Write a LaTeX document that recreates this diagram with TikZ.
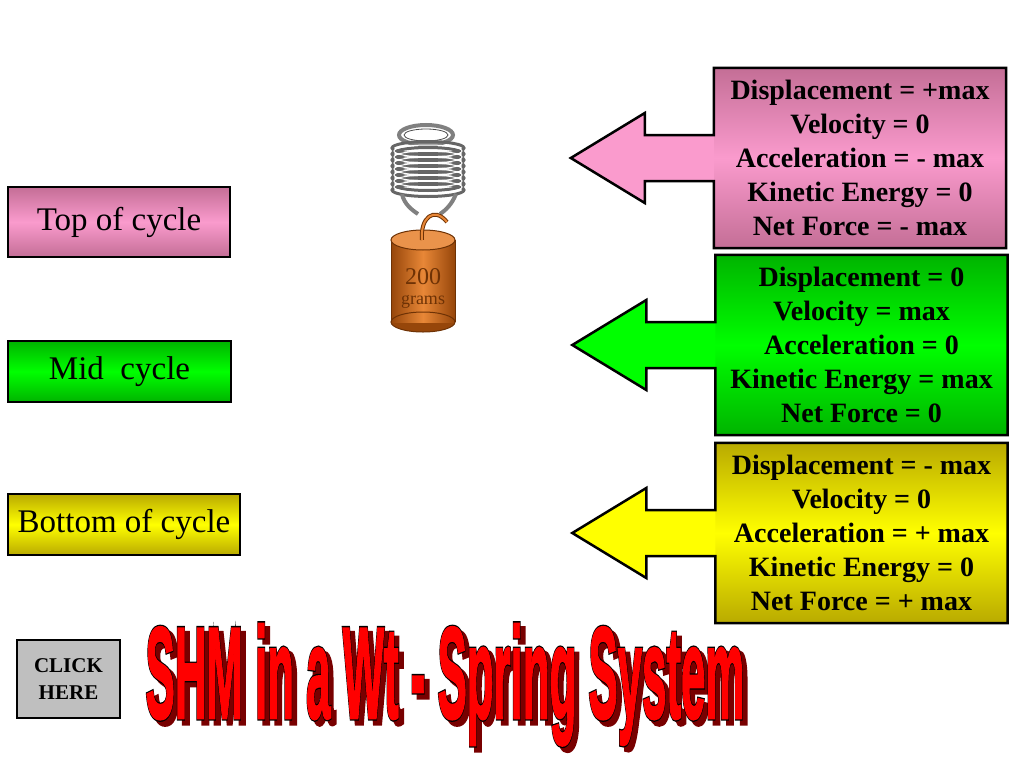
\documentclass[tikz,border=0pt]{standalone}
\usepackage{fontspec}
\setmainfont{Liberation Serif}
\newfontfamily\titlefont[FakeBold=2]{Liberation Sans Bold}
\newfontfamily\titleedgefont[FakeBold=4]{Liberation Sans Bold}
\usepackage{xcolor}
\usetikzlibrary{calc}
\definecolor{pinkmid}{RGB}{250,155,205}
\definecolor{pinkedge}{RGB}{196,110,150}
\definecolor{greenmid}{RGB}{0,255,0}
\definecolor{greenedge}{RGB}{0,180,0}
\definecolor{yellowmid}{RGB}{255,255,0}
\definecolor{yellowedge}{RGB}{185,170,0}
\definecolor{brassdark}{RGB}{150,70,10}
\definecolor{brasslight}{RGB}{232,135,55}
\definecolor{brassline}{RGB}{110,50,5}
\definecolor{titlered}{RGB}{255,0,0}
\definecolor{titleshadow}{RGB}{120,0,0}
\newcommand{\callout}[2]{%
  \fill[#2] ($(#1.west)+(0,-23)$) -- ($(#1.west)+(-69,-23)$)
    -- ($(#1.west)+(-69,-45)$) -- ($(#1.west)+(-143,0)$)
    -- ($(#1.west)+(-69,45)$) -- ($(#1.west)+(-69,23)$)
    -- ($(#1.west)+(0,23)$) -- cycle;
  \draw[outline] (#1.north west) -- ($(#1.west)+(0,-23)$)
    -- ($(#1.west)+(-69,-23)$) -- ($(#1.west)+(-69,-45)$)
    -- ($(#1.west)+(-143,0)$) -- ($(#1.west)+(-69,45)$)
    -- ($(#1.west)+(-69,23)$) -- ($(#1.west)+(0,23)$)
    -- (#1.south west) -- (#1.south east) -- (#1.north east) -- cycle;
}

\begin{document}
\begin{tikzpicture}[x=1pt, y=-1pt,
  outline/.style={draw=black, line width=2.5pt, line join=miter},
  phasebox/.style={outline, inner sep=0pt, font=\fontsize{33}{40}\selectfont},
  infobox/.style={inner sep=0pt, minimum width=292pt, minimum height=180pt,
    align=center, font=\fontsize{28}{34}\selectfont\bfseries},
  titletext/.style={anchor=base, xscale=0.337, inner sep=0pt,
    font=\fontsize{130}{130}\selectfont}]
\useasboundingbox (0,0) rectangle (1024,768);

% phase labels
\node[phasebox, minimum width=222pt, minimum height=70pt,
  top color=pinkedge, bottom color=pinkedge, middle color=pinkmid]
  (top) at (119,222) {Top of cycle};
\node[phasebox, minimum width=223pt, minimum height=61pt,
  top color=greenedge, bottom color=greenedge, middle color=greenmid]
  (mid) at (119.5,371.5) {Mid~ cycle};
\node[phasebox, minimum width=232pt, minimum height=61pt,
  top color=yellowedge, bottom color=yellowedge, middle color=yellowmid]
  (bottom) at (124,524.5) {Bottom of cycle};

% callouts
\node[infobox, top color=pinkedge, bottom color=pinkedge, middle color=pinkmid]
  (topinfo) at (860,158) {Displacement = +max\\ Velocity = 0\\
  Acceleration = - max\\ Kinetic Energy = 0\\ Net Force = - max};
\callout{topinfo}{pinkmid}
\node[infobox, top color=greenedge, bottom color=greenedge, middle color=greenmid]
  (midinfo) at (861.5,345) {Displacement = 0\\ Velocity = max\\
  Acceleration = 0\\ Kinetic Energy = max\\ Net Force = 0};
\callout{midinfo}{greenmid}
\node[infobox, top color=yellowedge, bottom color=yellowedge, middle color=yellowmid]
  (bottominfo) at (861.5,533) {Displacement = - max\\ Velocity = 0\\
  Acceleration = + max\\ Kinetic Energy = 0\\ Net Force = + max};
\callout{bottominfo}{yellowmid}

% spring and weight
\draw[gray, line width=4pt] (426,135) ellipse (27 and 10);
\draw[black!70, line width=0.8pt] (426,135) ellipse (22 and 6);
\foreach \yy in {148,154,...,190}
  \draw[gray!80!black, line width=3pt] (428,\yy) ellipse (36 and 6.5);
\foreach \yy in {151,157,...,187}
  \draw[white, line width=1pt] (428,\yy) ellipse (34 and 6);
\draw[gray, line width=4pt] (402,194) .. controls (404,204) and (412,210) .. (418,214);
\draw[gray, line width=4pt] (456,194) .. controls (452,204) and (446,210) .. (440,214);
\fill[brassdark] (423,322) ellipse (32 and 10);
\shade[left color=brassdark, right color=brassdark, middle color=brasslight]
  (391,240) rectangle (455,322);
\draw[brassline, line width=1pt] (391,240) -- (391,322);
\draw[brassline, line width=1pt] (455,240) -- (455,322);
\draw[brassline, line width=1pt] (423,322) ellipse (32 and 10);
\fill[brasslight!90!white, draw=brassline, line width=1pt] (423,240) ellipse (32 and 10);
\draw[brassline, line width=4pt] (422,240) .. controls (420,218) and (434,206) .. (447,222);
\draw[brasslight, line width=2pt] (422,240) .. controls (420,218) and (434,206) .. (447,222);
\node[text=brassline, font=\fontsize{24}{24}\selectfont, inner sep=0pt]
  (mass) at (423,277) {200};
\node[text=brassline, font=\fontsize{18}{18}\selectfont, inner sep=0pt]
  (unit) at (423,302) {grams};

% button
\node[outline, fill=black!25, minimum width=103pt, minimum height=78pt,
  inner sep=0pt, align=center, font=\fontsize{21}{27}\selectfont\bfseries]
  (click) at (68.5,679) {CLICK\\ HERE};

% title
\node[titletext, text=titleshadow] (titleshade) at (450,723)
  {\titleedgefont SHM in a Wt - Spring System};
\node[titletext, text=black] (titleedge) at (445,718)
  {\titleedgefont SHM in a Wt - Spring System};
\node[titletext, text=titlered] (title) at (445,718)
  {\titlefont SHM in a Wt - Spring System};
\end{tikzpicture}
\end{document}
